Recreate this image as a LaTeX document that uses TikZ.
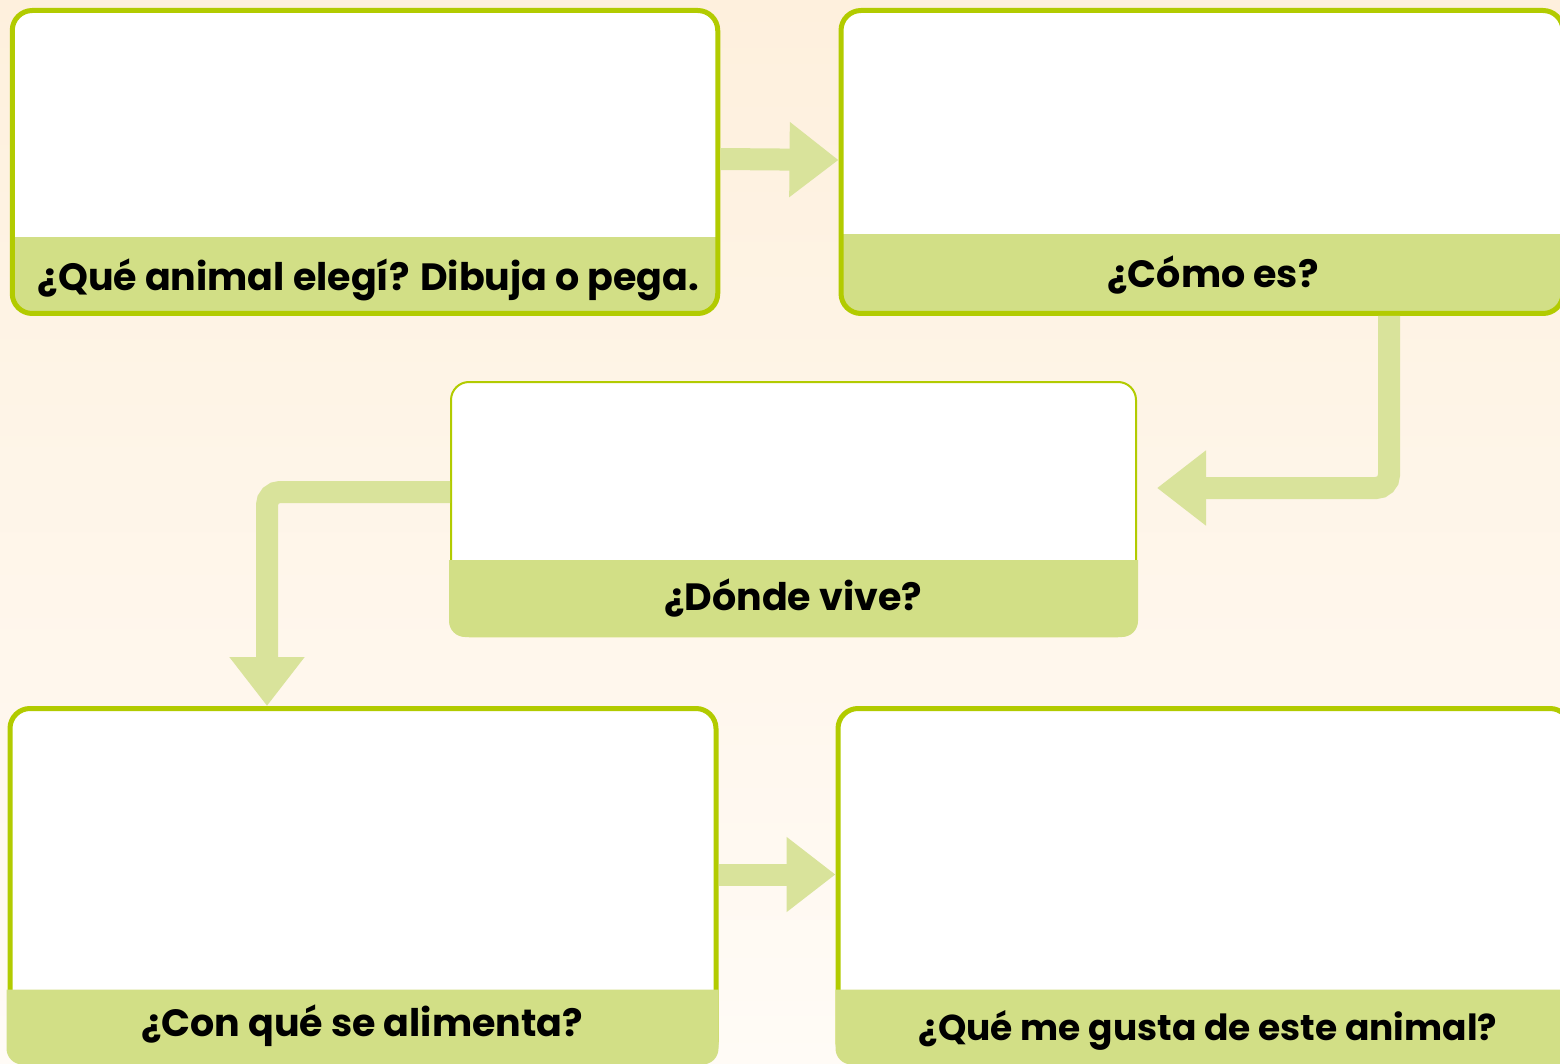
\documentclass[tikz,border=0pt]{standalone}
\usepackage{fontspec}
\setmainfont{Poppins}
\usetikzlibrary{arrows.meta}
\definecolor{edge}{HTML}{B2CB00}
\definecolor{bandc}{HTML}{D2DF86}
\definecolor{arrc}{HTML}{D9E39B}
\definecolor{bgtop}{HTML}{FEF0DD}
\definecolor{bgbot}{HTML}{FFFBF6}
\begin{document}
\begin{tikzpicture}[x=1pt,y=-1pt,
  card/.style={rectangle, fill=white, draw=edge, line width=5pt, rounded corners=20pt, inner sep=0pt},
  thincard/.style={card, line width=2pt, rounded corners=18pt},
  withband/.style={path picture={\fill[bandc, sharp corners] ([yshift=#1]path picture bounding box.south west) rectangle ([yshift=-3pt]path picture bounding box.south east);}},
  lbl/.style={font=\fontsize{38}{44}\selectfont\bfseries, text=black, inner sep=0pt},
  flow/.style={draw=arrc, line width=22pt, -{Triangle[length=49pt,width=72pt]}},
  elbowflow/.style={flow, rounded corners=13pt}
]
\useasboundingbox (0,0) rectangle (1560,1064);
\clip (0,0) rectangle (1560,1064);
\shade[top color=bgtop, bottom color=bgbot] (0,0) rectangle (1560,1064);

% cards
\node[card, withband=76.5pt, minimum width=705.5pt, minimum height=303pt] (b1) at (365,162) {};
\node[card, withband=79.5pt, minimum width=722pt, minimum height=303pt] (b2) at (1202,162) {};
\node[thincard, minimum width=685pt, minimum height=254pt] (b3) at (793.5,509) {};
\node[card, minimum width=706pt, minimum height=353.5pt] (b4) at (363,885.25) {};
\node[card, minimum width=732pt, minimum height=353.5pt] (b5) at (1204,885.25) {};

% bands drawn over the borders
\fill[bandc] ([xshift=-1pt,yshift=77pt]b3.south west) -- ([xshift=1pt,yshift=77pt]b3.south east) [rounded corners=16pt] -- ([xshift=1pt]b3.south east) -- ([xshift=-1pt]b3.south west) [sharp corners] -- cycle;
\fill[bandc] ([xshift=-1pt,yshift=75pt]b4.south west) -- ([xshift=0pt,yshift=75pt]b4.south east) [rounded corners=16pt] -- ([xshift=0pt]b4.south east) -- ([xshift=-1pt]b4.south west) [sharp corners] -- cycle;
\fill[bandc] ([xshift=0pt,yshift=75pt]b5.south west) -- ([xshift=0pt,yshift=75pt]b5.south east) [rounded corners=16pt] -- ([xshift=0pt]b5.south east) -- ([xshift=0pt]b5.south west) [sharp corners] -- cycle;

% labels
\node[lbl] (t1) at (368.5,280) {¿Qué animal elegí? Dibuja o pega.};
\node[lbl] (t2) at (1213,275) {¿Cómo es?};
\node[lbl] (t3) at (793,598) {¿Dónde vive?};
\node[lbl] (t4) at (362,1026) {¿Con qué se alimenta?};
\node[lbl, font=\fontsize{36}{42}\selectfont\bfseries] (t5) at (1208,1030) {¿Qué me gusta de este animal?};

% connectors
\draw[flow] ([yshift=3pt]b1.east) -- ([yshift=2pt]b2.west);
\draw[flow] ([yshift=10.75pt]b4.east) -- ([yshift=10.75pt]b5.west);
\draw[elbowflow] ([xshift=187pt]b2.south) |- ([xshift=20pt,yshift=21pt]b3.east);
\draw[elbowflow] ([yshift=17pt]b3.west) -| ([xshift=-96pt]b4.north);
\end{tikzpicture}
\end{document}
